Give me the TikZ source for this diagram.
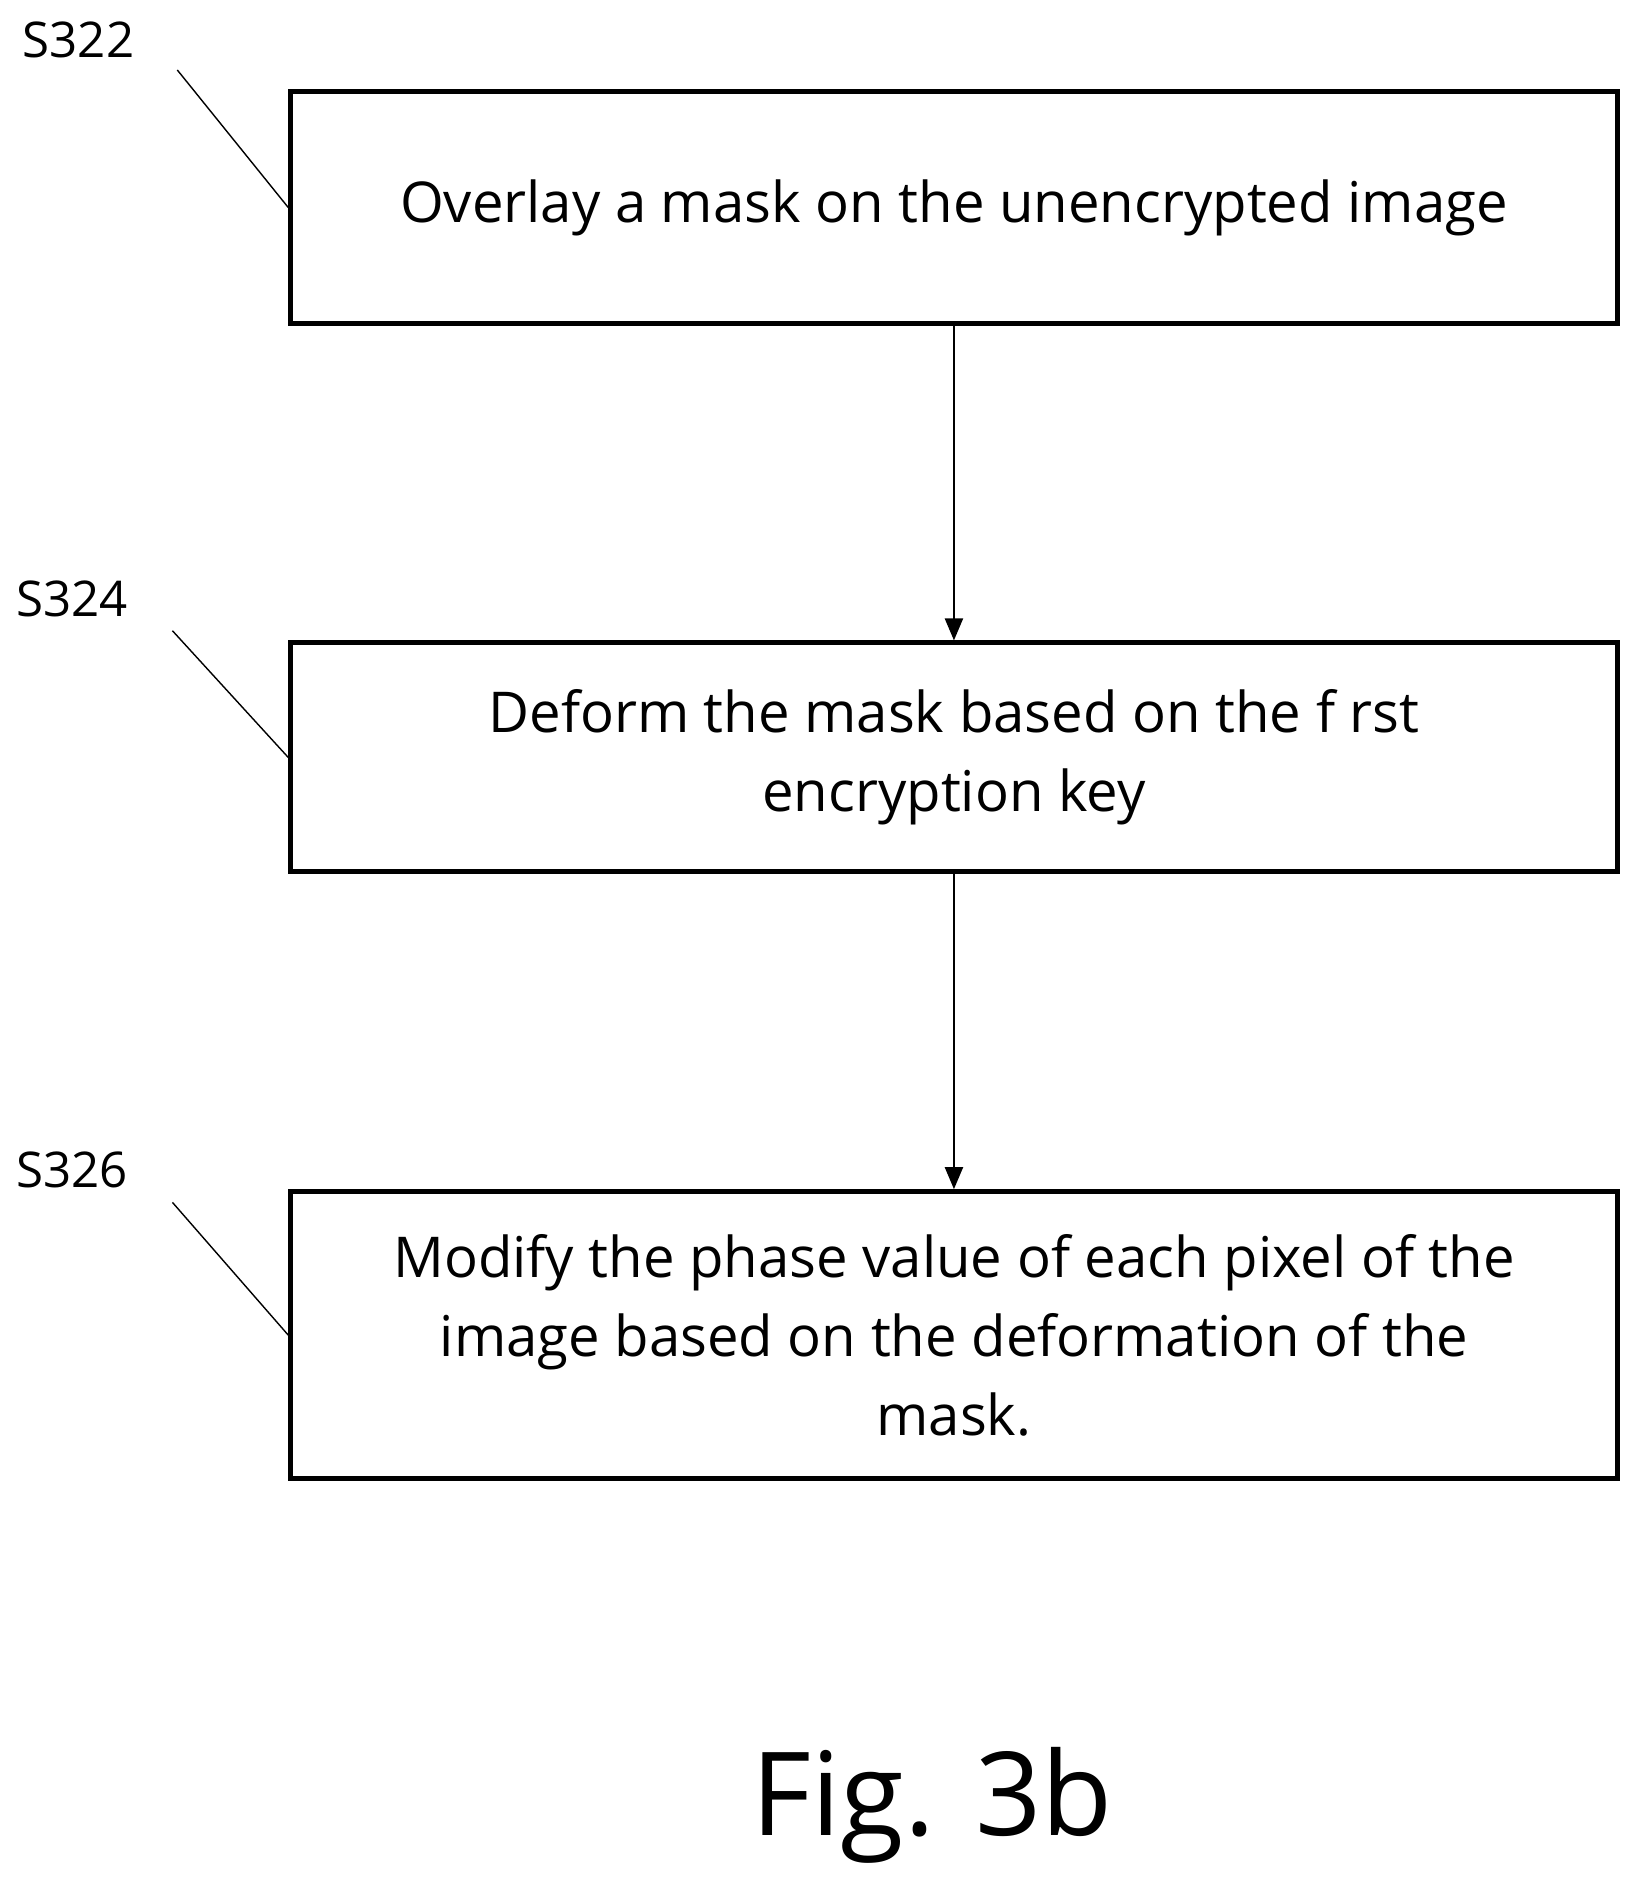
\documentclass[tikz,border=0pt]{standalone}
\usepackage{fontspec}
\setmainfont{Open Sans}
\usetikzlibrary{arrows,positioning}
\begin{document}
\begin{tikzpicture}[x=0.01206cm,y=-0.01206cm]
          \useasboundingbox (0,0) rectangle (1360,1568);
          \tikzstyle{etape}=[draw,line width=1.4pt,minimum width=1100*0.01206cm,inner sep=0pt,align=center,font=\fontsize{16}{22.5}\selectfont]
          \tikzstyle{lab}=[font=\fontsize{14}{16}\selectfont]
          \tikzstyle{flow}=[-triangle 45,thin,draw]
          % boites
          \node[etape,minimum height=192*0.01206cm] (S322) at (791,172) {Overlay a mask on the unencrypted image};
          \node[etape,minimum height=190*0.01206cm] (S324) at (791,628) {Deform the mask based on the f rst\\encryption key};
          \node[etape,minimum height=238*0.01206cm] (S326) at (791,1107) {Modify the phase value of each pixel of the\\image based on the deformation of the\\mask.};
          % references
          \node[lab] (L322) at (65,33) {S322};
          \node[lab] (L324) at (60,497) {S324};
          \node[lab] (L326) at (60,970) {S326};
          \coordinate (T322) at (147,58);
          \coordinate (T324) at (143,523);
          \coordinate (T326) at (143,997);
          \draw (T322) -- (S322.west);
          \draw (T324) -- (S324.west);
          \draw (T326) -- (S326.west);
          \path (S322) edge[flow] (S324)
          (S324) edge[flow] (S326);
          \node[font=\fontsize{33}{38}\selectfont] (fig) at (773,1497) {Fig. 3b};
\end{tikzpicture}
\end{document}
